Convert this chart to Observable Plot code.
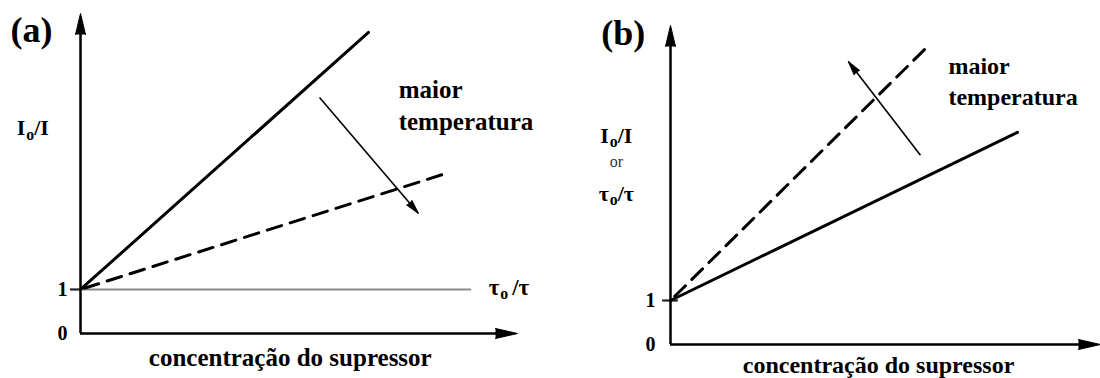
<!DOCTYPE html>
<html><head><meta charset="utf-8">
<script src="https://cdn.jsdelivr.net/npm/d3@7"></script>
<script src="https://cdn.jsdelivr.net/npm/@observablehq/plot@0.6"></script>
<style>
html,body{margin:0;padding:0;background:#fff;}
#wrap{display:flex;width:1100px;height:378px;overflow:hidden;}
</style></head><body><div id="wrap"></div>
<script>
// ---------- Panel (a) data ----------
const aSolidConc = [0, 6.59];
const aSolidRatio = [1, 6.84];      // I0/I, lower temperature
const aDashConc = [0, 8.28];
const aDashRatio = [1, 3.61];       // I0/I, higher temperature
const aTauConc = [0, 8.92];
const aTauRatio = [1, 1];           // tau0/tau (static quenching)
const aArrowConc = [5.47, 7.73];
const aArrowRatio = [5.36, 2.73];

// ---------- Panel (b) data ----------
const bSolidConc = [0, 7.94];
const bSolidRatio = [1, 4.82];      // lower temperature
const bDashConc = [0, 5.86];
const bDashRatio = [1, 6.75];       // higher temperature
const bArrowConc = [5.72, 4.07];
const bArrowRatio = [4.30, 6.43];

// ---------- labels ----------
const yTicks = [0, 1];
const xLabel = "concentração do supressor";
const tempLabel = "maior\ntemperatura";
const panelLabels = ["(a)", "(b)"];
const aYLabels = ["Io/I"];
const bYLabels = ["Io/I", "τo/τ"];
const orLabel = "or";
const aTauLabel = "τo/τ";

const FONT = "Liberation Serif, Times New Roman, serif";
const INK = "#000";

const pts = (xs, ys) => xs.map((x, i) => ({x, y: ys[i]}));

function panel(cfg) {
  const px = d3.scaleLinear(cfg.xDomain, cfg.xRange);
  const py = d3.scaleLinear(cfg.yDomain, cfg.yRange);
  const xMax = cfg.xDomain[1], yMax = cfg.yDomain[1];
  const arrow = pts(cfg.arrowConc, cfg.arrowRatio);
  const dxp = px(arrow[1].x) - px(arrow[0].x);
  const dyp = py(arrow[1].y) - py(arrow[0].y);
  const angle = Math.atan2(dxp, -dyp) * 180 / Math.PI;

  const marks = [
    // axes
    Plot.ruleX([0], {y1: 0, y2: yMax - 0.2, stroke: "#000", strokeWidth: 2.5}),
    Plot.ruleY([0], {x1: 0, x2: xMax - 0.2, stroke: "#000", strokeWidth: 2.5}),
    Plot.vector([{x: 0, y: yMax}], {x: "x", y: "y", shape: "spike", anchor: "end", length: 21, r: 5, rotate: 0, fill: "#000", stroke: "#000", strokeWidth: 1}),
    Plot.vector([{x: xMax, y: 0}], {x: "x", y: "y", shape: "spike", anchor: "end", length: 22, r: 5, rotate: 90, fill: "#000", stroke: "#000", strokeWidth: 1}),
    // tick at 1
    Plot.ruleY([1], {x1: cfg.tick[0], x2: cfg.tick[1], stroke: "#222", strokeWidth: 2.2}),
    // tick labels
    Plot.text(yTicks, {x: cfg.tickLabelX, y: d => d, text: d => String(d), fontSize: 20, fontWeight: "bold", fontFamily: FONT, fill: INK, textAnchor: "middle"}),
  ];
  if (cfg.tau) {
    marks.push(Plot.line(pts(cfg.tau[0], cfg.tau[1]), {x: "x", y: "y", stroke: "#8a8a8a", strokeWidth: 2}));
    marks.push(Plot.text([aTauLabel], {x: cfg.tauLabel[0], y: cfg.tauLabel[1], text: d => d, textAnchor: "start", fontSize: 23, fontWeight: "bold", fontFamily: FONT, fill: INK}));
  }
  if (cfg.orY != null) {
    marks.push(Plot.text([orLabel], {x: cfg.yLabelX, y: cfg.orY, text: d => d, textAnchor: "middle", fontSize: 16, fontFamily: FONT, fill: "#333"}));
  }
  marks.push(
    Plot.line(pts(cfg.solid[0], cfg.solid[1]), {x: "x", y: "y", stroke: "#000", strokeWidth: 3}),
    Plot.line(pts(cfg.dash[0], cfg.dash[1]), {x: "x", y: "y", stroke: "#000", strokeWidth: 3, strokeDasharray: "15,9", strokeDashoffset: cfg.dashOffset}),
    // temperature arrow
    Plot.link([{x1: arrow[0].x, y1: arrow[0].y, x2: arrow[1].x, y2: arrow[1].y}], {x1: "x1", y1: "y1", x2: "x2", y2: "y2", stroke: "#000", strokeWidth: 1.6}),
    Plot.vector([arrow[1]], {x: "x", y: "y", shape: "spike", anchor: "end", length: 14, r: 3.5, rotate: angle, fill: "#000", stroke: "#000", strokeWidth: 1}),
    Plot.text([tempLabel], {x: cfg.tempPos[0], y: cfg.tempPos[1], text: d => d, textAnchor: "start", lineAnchor: "middle", lineHeight: 1.3, fontSize: cfg.tempSize, fontWeight: "bold", fontFamily: FONT, fill: INK}),
    // x label
    Plot.text([xLabel], {x: cfg.xLabelPos[0], y: cfg.xLabelPos[1], text: d => d, textAnchor: "middle", fontSize: cfg.xLabelSize, fontWeight: "bold", fontFamily: FONT, fill: INK}),
    // panel label
    Plot.text([cfg.panelLabel], {x: cfg.panelPos[0], y: cfg.panelPos[1], text: d => d, textAnchor: "middle", fontSize: 36, fontWeight: "bold", fontFamily: FONT, fill: INK}),
    // y labels
    Plot.text(cfg.yLabels, {x: cfg.yLabelX, y: (d, i) => cfg.yLabelY[i], text: d => d, textAnchor: "middle",
      fontSize: 22, fontWeight: "bold", fontFamily: FONT, fill: INK})
  );

  const svg = Plot.plot({
    width: 550, height: 378,
    margin: 0,
    x: {domain: cfg.xDomain, range: cfg.xRange, axis: null},
    y: {domain: cfg.yDomain, range: cfg.yRange, axis: null},
    style: {background: "#fff", fontFamily: FONT, overflow: "visible"},
    marks
  });

  // subscripts for I0/I and tau0/tau
  d3.select(svg).selectAll("text").each(function () {
    const t = this.textContent;
    if (t === "Io/I" || t === "τo/τ") {
      const fs = parseFloat(this.getAttribute("font-size")) || 22;
      const a = t[0], b = t.slice(2);
      this.textContent = "";
      const s = d3.select(this);
      s.append("tspan").text(a);
      s.append("tspan").attr("font-size", fs * 0.72).attr("dy", fs * 0.22).attr("dx", 1).text("o");
      s.append("tspan").attr("dy", -fs * 0.22).attr("dx", t[0] === "τ" && cfg.tau ? 4 : 0).text(b);
    }
  });
  return svg;
}

const wrap = document.getElementById("wrap");
wrap.append(panel({
  xDomain: [0, 10], xRange: [80, 517],
  yDomain: [0, 7.27], yRange: [333, 13],
  solid: [aSolidConc, aSolidRatio],
  dash: [aDashConc, aDashRatio], dashOffset: 20,
  tau: [aTauConc, aTauRatio], tauLabel: [9.34, 1.05],
  arrowConc: aArrowConc, arrowRatio: aArrowRatio,
  tick: [-0.23, 0],
  tickLabelX: -0.41,
  tempPos: [7.28, 5.22], tempSize: 25,
  xLabelPos: [4.8, -0.55], xLabelSize: 25,
  panelLabel: panelLabels[0], panelPos: [-1.12, 6.89],
  yLabels: aYLabels, yLabelX: -1.09, yLabelY: [4.66],
  orY: null
}));
wrap.append(panel({
  xDomain: [0, 9.84], xRange: [120, 550],
  yDomain: [0, 7.25], yRange: [344, 25],
  solid: [bSolidConc, bSolidRatio],
  dash: [bDashConc, bDashRatio], dashOffset: 18,
  tau: null,
  arrowConc: bArrowConc, arrowRatio: bArrowRatio,
  tick: [-0.18, 0.18],
  tickLabelX: -0.46,
  tempPos: [6.36, 6.03], tempSize: 24,
  xLabelPos: [4.76, -0.47], xLabelSize: 24,
  panelLabel: panelLabels[1], panelPos: [-1.08, 7.07],
  yLabels: bYLabels, yLabelX: -1.24, yLabelY: [4.75, 3.43],
  orY: 4.14
}));
</script></body></html>
